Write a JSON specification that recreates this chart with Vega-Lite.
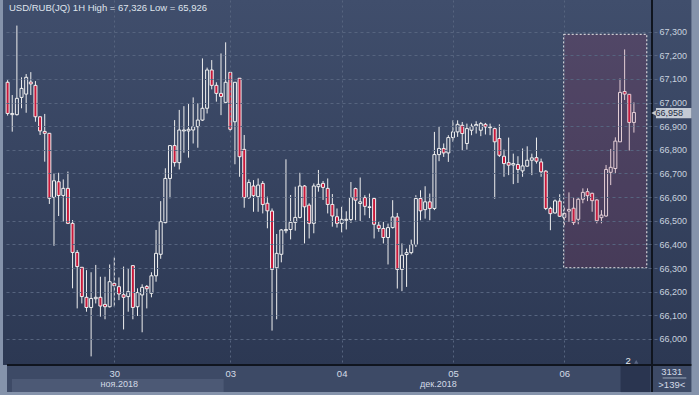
{
"$schema":"https://vega.github.io/schema/vega-lite/v6.json",
"width":654,"height":365,
"autosize":{"type":"none"},
"padding":{"left":3,"top":0,"right":42,"bottom":30},
"background":"#8593ab",
"config":{"font":"Liberation Sans","view":{"stroke":null,"fill":{"gradient":"linear","x1":0,"y1":0,"x2":0,"y2":1,"stops":[{"offset":0,"color":"#404e6c"},{"offset":1,"color":"#2c3853"}]}}},
"resolve":{"axis":{"x":"independent","y":"independent"}},
"datasets":{"candles":[
{"i":1,"o":67.086,"h":67.095,"l":66.945,"c":66.954},
{"i":2,"o":66.949,"h":67.032,"l":66.877,"c":66.954},
{"i":3,"o":66.949,"h":67.326,"l":66.945,"c":67.018},
{"i":4,"o":67.022,"h":67.107,"l":66.976,"c":67.060},
{"i":5,"o":67.036,"h":67.121,"l":66.957,"c":67.107},
{"i":6,"o":67.087,"h":67.129,"l":67.032,"c":67.079},
{"i":7,"o":67.073,"h":67.091,"l":66.919,"c":66.940},
{"i":8,"o":66.940,"h":66.940,"l":66.863,"c":66.880},
{"i":9,"o":66.878,"h":66.952,"l":66.750,"c":66.870},
{"i":10,"o":66.870,"h":66.870,"l":66.571,"c":66.595},
{"i":11,"o":66.599,"h":66.700,"l":66.394,"c":66.669},
{"i":12,"o":66.665,"h":66.703,"l":66.520,"c":66.607},
{"i":13,"o":66.607,"h":66.675,"l":66.496,"c":66.637},
{"i":14,"o":66.637,"h":66.708,"l":66.486,"c":66.489},
{"i":15,"o":66.489,"h":66.503,"l":66.214,"c":66.366},
{"i":16,"o":66.366,"h":66.376,"l":66.129,"c":66.306},
{"i":17,"o":66.303,"h":66.303,"l":66.150,"c":66.179},
{"i":18,"o":66.176,"h":66.291,"l":66.115,"c":66.133},
{"i":19,"o":66.133,"h":66.282,"l":65.926,"c":66.171},
{"i":20,"o":66.170,"h":66.313,"l":66.150,"c":66.176},
{"i":21,"o":66.176,"h":66.263,"l":66.094,"c":66.139},
{"i":22,"o":66.146,"h":66.263,"l":66.083,"c":66.136},
{"i":23,"o":66.136,"h":66.315,"l":66.133,"c":66.242},
{"i":24,"o":66.235,"h":66.345,"l":66.136,"c":66.225},
{"i":25,"o":66.221,"h":66.260,"l":66.164,"c":66.190},
{"i":26,"o":66.187,"h":66.306,"l":66.040,"c":66.176},
{"i":27,"o":66.179,"h":66.298,"l":66.115,"c":66.200},
{"i":28,"o":66.310,"h":66.310,"l":66.083,"c":66.133},
{"i":29,"o":66.136,"h":66.214,"l":66.097,"c":66.196},
{"i":30,"o":66.186,"h":66.231,"l":66.028,"c":66.218},
{"i":31,"o":66.222,"h":66.228,"l":66.129,"c":66.212},
{"i":32,"o":66.193,"h":66.282,"l":66.176,"c":66.267},
{"i":33,"o":66.267,"h":66.461,"l":66.242,"c":66.362},
{"i":34,"o":66.358,"h":66.583,"l":66.339,"c":66.496},
{"i":35,"o":66.492,"h":66.722,"l":66.489,"c":66.679},
{"i":36,"o":66.679,"h":66.818,"l":66.595,"c":66.818},
{"i":37,"o":66.818,"h":66.926,"l":66.729,"c":66.746},
{"i":38,"o":66.746,"h":66.969,"l":66.717,"c":66.884},
{"i":39,"o":66.880,"h":66.985,"l":66.788,"c":66.884},
{"i":40,"o":66.880,"h":66.994,"l":66.767,"c":66.887},
{"i":41,"o":66.884,"h":67.022,"l":66.827,"c":66.898},
{"i":42,"o":66.898,"h":66.997,"l":66.809,"c":66.926},
{"i":43,"o":66.926,"h":67.187,"l":66.922,"c":66.976},
{"i":44,"o":66.976,"h":67.148,"l":66.954,"c":67.138},
{"i":45,"o":67.138,"h":67.180,"l":67.056,"c":67.073},
{"i":46,"o":67.073,"h":67.086,"l":67.004,"c":67.039},
{"i":47,"o":67.039,"h":67.208,"l":66.947,"c":67.026},
{"i":48,"o":67.001,"h":67.255,"l":66.997,"c":67.086},
{"i":49,"o":67.128,"h":67.128,"l":66.877,"c":66.887},
{"i":50,"o":66.919,"h":67.086,"l":66.739,"c":67.086},
{"i":51,"o":67.103,"h":67.103,"l":66.686,"c":66.771},
{"i":52,"o":66.802,"h":66.863,"l":66.555,"c":66.598},
{"i":53,"o":66.598,"h":66.675,"l":66.592,"c":66.662},
{"i":54,"o":66.647,"h":66.672,"l":66.538,"c":66.606},
{"i":55,"o":66.602,"h":66.679,"l":66.538,"c":66.651},
{"i":56,"o":66.658,"h":66.668,"l":66.531,"c":66.569},
{"i":57,"o":66.574,"h":66.602,"l":66.468,"c":66.542},
{"i":58,"o":66.541,"h":66.552,"l":66.035,"c":66.294},
{"i":59,"o":66.301,"h":66.444,"l":66.083,"c":66.362},
{"i":60,"o":66.358,"h":66.465,"l":66.324,"c":66.461},
{"i":61,"o":66.458,"h":66.760,"l":66.447,"c":66.463},
{"i":62,"o":66.463,"h":66.609,"l":66.421,"c":66.493},
{"i":63,"o":66.493,"h":66.644,"l":66.458,"c":66.514},
{"i":64,"o":66.514,"h":66.703,"l":66.510,"c":66.647},
{"i":65,"o":66.647,"h":66.651,"l":66.404,"c":66.559},
{"i":66,"o":66.566,"h":66.574,"l":66.425,"c":66.489},
{"i":67,"o":66.489,"h":66.658,"l":66.447,"c":66.647},
{"i":68,"o":66.644,"h":66.715,"l":66.623,"c":66.654},
{"i":69,"o":66.658,"h":66.668,"l":66.588,"c":66.641},
{"i":70,"o":66.637,"h":66.679,"l":66.531,"c":66.569},
{"i":71,"o":66.569,"h":66.613,"l":66.475,"c":66.520},
{"i":72,"o":66.517,"h":66.552,"l":66.471,"c":66.489},
{"i":73,"o":66.489,"h":66.559,"l":66.451,"c":66.506},
{"i":74,"o":66.502,"h":66.540,"l":66.463,"c":66.506},
{"i":75,"o":66.505,"h":66.664,"l":66.491,"c":66.598},
{"i":76,"o":66.636,"h":66.640,"l":66.502,"c":66.587},
{"i":77,"o":66.573,"h":66.683,"l":66.499,"c":66.580},
{"i":78,"o":66.598,"h":66.608,"l":66.523,"c":66.561},
{"i":79,"o":66.556,"h":66.615,"l":66.511,"c":66.559},
{"i":80,"o":66.594,"h":66.598,"l":66.425,"c":66.485},
{"i":81,"o":66.481,"h":66.495,"l":66.453,"c":66.467},
{"i":82,"o":66.467,"h":66.495,"l":66.404,"c":66.429},
{"i":83,"o":66.429,"h":66.488,"l":66.315,"c":66.471},
{"i":84,"o":66.471,"h":66.587,"l":66.467,"c":66.516},
{"i":85,"o":66.516,"h":66.533,"l":66.213,"c":66.294},
{"i":86,"o":66.294,"h":66.404,"l":66.202,"c":66.354},
{"i":87,"o":66.357,"h":66.382,"l":66.220,"c":66.365},
{"i":88,"o":66.365,"h":66.420,"l":66.358,"c":66.399},
{"i":89,"o":66.399,"h":66.608,"l":66.389,"c":66.594},
{"i":90,"o":66.594,"h":66.629,"l":66.502,"c":66.542},
{"i":91,"o":66.547,"h":66.646,"l":66.509,"c":66.580},
{"i":92,"o":66.580,"h":66.615,"l":66.502,"c":66.552},
{"i":93,"o":66.552,"h":66.876,"l":66.545,"c":66.780},
{"i":94,"o":66.780,"h":66.897,"l":66.752,"c":66.806},
{"i":95,"o":66.806,"h":66.827,"l":66.770,"c":66.787},
{"i":96,"o":66.787,"h":66.862,"l":66.749,"c":66.852},
{"i":97,"o":66.852,"h":66.925,"l":66.834,"c":66.876},
{"i":98,"o":66.876,"h":66.925,"l":66.855,"c":66.908},
{"i":99,"o":66.904,"h":66.918,"l":66.798,"c":66.869},
{"i":100,"o":66.827,"h":66.911,"l":66.801,"c":66.890},
{"i":101,"o":66.883,"h":66.911,"l":66.862,"c":66.900},
{"i":102,"o":66.901,"h":66.921,"l":66.869,"c":66.907},
{"i":103,"o":66.883,"h":66.918,"l":66.858,"c":66.911},
{"i":104,"o":66.908,"h":66.914,"l":66.865,"c":66.897},
{"i":105,"o":66.894,"h":66.911,"l":66.862,"c":66.897},
{"i":106,"o":66.890,"h":66.894,"l":66.593,"c":66.834},
{"i":107,"o":66.848,"h":66.908,"l":66.770,"c":66.777},
{"i":108,"o":66.773,"h":66.801,"l":66.686,"c":66.742},
{"i":109,"o":66.746,"h":66.852,"l":66.693,"c":66.735},
{"i":110,"o":66.736,"h":66.784,"l":66.655,"c":66.742},
{"i":111,"o":66.738,"h":66.773,"l":66.660,"c":66.717},
{"i":112,"o":66.711,"h":66.806,"l":66.686,"c":66.732},
{"i":113,"o":66.731,"h":66.815,"l":66.728,"c":66.756},
{"i":114,"o":66.756,"h":66.784,"l":66.693,"c":66.766},
{"i":115,"o":66.767,"h":66.852,"l":66.742,"c":66.752},
{"i":116,"o":66.749,"h":66.763,"l":66.686,"c":66.707},
{"i":117,"o":66.710,"h":66.714,"l":66.545,"c":66.552},
{"i":118,"o":66.552,"h":66.559,"l":66.460,"c":66.530},
{"i":119,"o":66.533,"h":66.590,"l":66.530,"c":66.584},
{"i":120,"o":66.583,"h":66.612,"l":66.516,"c":66.519},
{"i":121,"o":66.514,"h":66.560,"l":66.480,"c":66.531},
{"i":122,"o":66.541,"h":66.620,"l":66.495,"c":66.548},
{"i":123,"o":66.553,"h":66.598,"l":66.482,"c":66.492},
{"i":124,"o":66.506,"h":66.599,"l":66.485,"c":66.591},
{"i":125,"o":66.591,"h":66.637,"l":66.574,"c":66.620},
{"i":126,"o":66.623,"h":66.637,"l":66.583,"c":66.606},
{"i":127,"o":66.616,"h":66.619,"l":66.538,"c":66.585},
{"i":128,"o":66.588,"h":66.591,"l":66.489,"c":66.500},
{"i":129,"o":66.513,"h":66.545,"l":66.489,"c":66.524},
{"i":130,"o":66.520,"h":66.736,"l":66.517,"c":66.717},
{"i":131,"o":66.705,"h":66.804,"l":66.651,"c":66.726},
{"i":132,"o":66.721,"h":66.853,"l":66.701,"c":66.837},
{"i":133,"o":66.834,"h":67.102,"l":66.834,"c":67.043},
{"i":134,"o":67.047,"h":67.225,"l":67.011,"c":67.036},
{"i":135,"o":67.035,"h":67.035,"l":66.797,"c":66.916},
{"i":136,"o":66.916,"h":67.001,"l":66.873,"c":66.958}
]},
"layer":[
{"data":{"values":[{}]},"mark":{"type":"rect","fill":{"gradient":"linear","x1":0,"y1":0,"x2":0,"y2":1,"stops":[{"offset":0,"color":"#404e6c"},{"offset":1,"color":"#2c3853"}]}},
 "encoding":{"x":{"datum":139.9,"type":"quantitative","scale":{"domain":[1.085,139.9],"nice":false,"zero":false},"axis":null},"x2":{"datum":148.4},
 "y":{"datum":65.8895,"type":"quantitative","scale":{"domain":[65.8895,67.4342],"nice":false,"zero":false},"axis":null},"y2":{"datum":67.4342}}},
{"data":{"values":[{}]},"mark":{"type":"rect","fill":"#3d4a66"},
 "encoding":{"x":{"datum":0.873,"type":"quantitative","scale":{"domain":[1.085,139.9],"nice":false,"zero":false},"axis":null},"x2":{"datum":148.4},
 "y":{"datum":65.775,"type":"quantitative","scale":{"domain":[65.8895,67.4342],"nice":false,"zero":false},"axis":null},"y2":{"datum":65.8895}}},
{"data":{"values":[{}]},"mark":{"type":"rect","fill":"#4c5975"},
 "encoding":{"x":{"datum":1.934,"type":"quantitative","scale":{"domain":[1.085,139.9],"nice":false,"zero":false},"axis":null},"x2":{"datum":47.57},
 "y":{"datum":65.775,"type":"quantitative","scale":{"domain":[65.8895,67.4342],"nice":false,"zero":false},"axis":null},"y2":{"datum":65.830}}},
{"data":{"values":[{}]},"mark":{"type":"rect","fill":"#2a3550"},
 "encoding":{"x":{"datum":133.12,"type":"quantitative","scale":{"domain":[1.085,139.9],"nice":false,"zero":false},"axis":null},"x2":{"datum":139.49},
 "y":{"datum":65.775,"type":"quantitative","scale":{"domain":[65.8895,67.4342],"nice":false,"zero":false},"axis":null},"y2":{"datum":65.885}}},
{"data":{"name":"candles"},"mark":{"type":"rule","color":"#eeeeee","strokeWidth":1,"clip":true},
 "encoding":{"x":{"field":"i","type":"quantitative","scale":{"domain":[1.085,139.9],"nice":false,"zero":false},
   "axis":{"values":[24,49,73,97,121],"labelExpr":"datum.value==24?'30':datum.value==49?'03':datum.value==73?'04':datum.value==97?'05':'06'","grid":true,"gridColor":"#56647f","gridDash":[2,3],"domain":false,"ticks":false,"labelPadding":3,"labelFontSize":9.5,"labelColor":"#d4dbe6","labelFlush":false,"labelOverlap":false,"labelAngle":0,"title":null,"zindex":1,"orient":"bottom"}},
  "y":{"field":"l","type":"quantitative","scale":{"domain":[65.8895,67.4342],"nice":false,"zero":false},
   "axis":{"orient":"right","values":[66,66.1,66.2,66.3,66.4,66.5,66.6,66.7,66.8,66.9,67,67.1,67.2,67.3],"labelExpr":"replace(format(datum.value,'.3f'),'.',',')","grid":true,"gridColor":"#56647f","gridDash":[3,3],"domain":false,"ticks":false,"labelPadding":2,"labelFontSize":9,"labelColor":"#c9d2df","labelFlush":false,"labelOverlap":false,"title":null,"zindex":1}},
  "y2":{"field":"h"}}},
{"data":{"name":"candles"},"mark":{"type":"bar","size":3,"stroke":"#f0f0f0","strokeWidth":1,"clip":true},
 "encoding":{"x":{"field":"i","type":"quantitative","scale":{"domain":[1.085,139.9],"nice":false,"zero":false},"axis":null},
  "y":{"field":"o","type":"quantitative","scale":{"domain":[65.8895,67.4342],"nice":false,"zero":false},"axis":null},
  "y2":{"field":"c"},
  "fill":{"condition":{"test":"datum.c < datum.o","value":"#c8183a"},"field":"c","type":"quantitative","scale":{"domain":[65.8895,67.4342],"range":["#2c3853","#404e6c"]},"legend":null}}},
{"data":{"values":[{}]},"mark":{"type":"rect","fill":"#b0305a","fillOpacity":0.17,"stroke":"#eeeeee","strokeWidth":1,"strokeDash":[2,2]},
 "encoding":{"x":{"datum":120.87,"type":"quantitative","scale":{"domain":[1.085,139.9],"nice":false,"zero":false},"axis":null},"x2":{"datum":138.78},
 "y":{"datum":66.301,"type":"quantitative","scale":{"domain":[65.8895,67.4342],"nice":false,"zero":false},"axis":null},"y2":{"datum":67.289}}},
{"data":{"values":[{}]},"mark":{"type":"rule","color":"#10151f","strokeWidth":2},
 "encoding":{"x":{"datum":139.9,"type":"quantitative","scale":{"domain":[1.085,139.9],"nice":false,"zero":false},"axis":null},
 "y":{"datum":65.775,"type":"quantitative","scale":{"domain":[65.8895,67.4342],"nice":false,"zero":false},"axis":null},"y2":{"datum":67.4342}}},
{"data":{"values":[{}]},"mark":{"type":"rule","color":"#10151f","strokeWidth":2},
 "encoding":{"x":{"datum":0.873,"type":"quantitative","scale":{"domain":[1.085,139.9],"nice":false,"zero":false},"axis":null},"x2":{"datum":148.4},
 "y":{"datum":65.8895,"type":"quantitative","scale":{"domain":[65.8895,67.4342],"nice":false,"zero":false},"axis":null}}},
{"data":{"values":[{}]},"mark":{"type":"rect","fill":"#c4cad4"},
 "encoding":{"x":{"datum":140.76,"type":"quantitative","scale":{"domain":[1.085,139.9],"nice":false,"zero":false},"axis":null},"x2":{"datum":148.4},
 "y":{"datum":66.934,"type":"quantitative","scale":{"domain":[65.8895,67.4342],"nice":false,"zero":false},"axis":null},"y2":{"datum":66.977}}},
{"data":{"values":[{}]},"mark":{"type":"point","shape":"triangle-left","filled":true,"size":70,"color":"#c4cad4","opacity":1},
 "encoding":{"x":{"datum":140.55,"type":"quantitative","scale":{"domain":[1.085,139.9],"nice":false,"zero":false},"axis":null},
 "y":{"datum":66.9555,"type":"quantitative","scale":{"domain":[65.8895,67.4342],"nice":false,"zero":false},"axis":null}}},
{"data":{"values":[{}]},"mark":{"type":"text","text":"66,958","align":"left","baseline":"middle","fontSize":9,"color":"#1f2b42"},
 "encoding":{"x":{"datum":140.65,"type":"quantitative","scale":{"domain":[1.085,139.9],"nice":false,"zero":false},"axis":null},
 "y":{"datum":66.956,"type":"quantitative","scale":{"domain":[65.8895,67.4342],"nice":false,"zero":false},"axis":null}}},
{"data":{"values":[{}]},"mark":{"type":"text","text":"USD/RUB(JQ) 1H High = 67,326 Low = 65,926","align":"left","baseline":"middle","fontSize":9.5,"color":"#dfe4ec"},
 "encoding":{"x":{"datum":1.297,"type":"quantitative","scale":{"domain":[1.085,139.9],"nice":false,"zero":false},"axis":null},
 "y":{"datum":67.399,"type":"quantitative","scale":{"domain":[65.8895,67.4342],"nice":false,"zero":false},"axis":null}}},
{"data":{"values":[{}]},"mark":{"type":"text","text":"ноя.2018","align":"center","baseline":"middle","fontSize":9,"color":"#d4dbe6"},
 "encoding":{"x":{"datum":25.07,"type":"quantitative","scale":{"domain":[1.085,139.9],"nice":false,"zero":false},"axis":null},
 "y":{"datum":65.807,"type":"quantitative","scale":{"domain":[65.8895,67.4342],"nice":false,"zero":false},"axis":null}}},
{"data":{"values":[{}]},"mark":{"type":"text","text":"дек.2018","align":"center","baseline":"middle","fontSize":9,"color":"#d4dbe6"},
 "encoding":{"x":{"datum":93.85,"type":"quantitative","scale":{"domain":[1.085,139.9],"nice":false,"zero":false},"axis":null},
 "y":{"datum":65.807,"type":"quantitative","scale":{"domain":[65.8895,67.4342],"nice":false,"zero":false},"axis":null}}},
{"data":{"values":[{}]},"mark":{"type":"text","text":"2","align":"center","baseline":"middle","fontSize":9.5,"color":"#e6eaf0"},
 "encoding":{"x":{"datum":134.75,"type":"quantitative","scale":{"domain":[1.085,139.9],"nice":false,"zero":false},"axis":null},
 "y":{"datum":65.908,"type":"quantitative","scale":{"domain":[65.8895,67.4342],"nice":false,"zero":false},"axis":null}}},
{"data":{"values":[{}]},"mark":{"type":"point","shape":"triangle-up","filled":true,"size":18,"color":"#5a6684","opacity":1},
 "encoding":{"x":{"datum":136.5,"type":"quantitative","scale":{"domain":[1.085,139.9],"nice":false,"zero":false},"axis":null},
 "y":{"datum":65.903,"type":"quantitative","scale":{"domain":[65.8895,67.4342],"nice":false,"zero":false},"axis":null}}},
{"data":{"values":[{}]},"mark":{"type":"text","text":"3131","align":"center","baseline":"middle","fontSize":9.5,"color":"#d4dbe6"},
 "encoding":{"x":{"datum":144.16,"type":"quantitative","scale":{"domain":[1.085,139.9],"nice":false,"zero":false},"axis":null},
 "y":{"datum":65.861,"type":"quantitative","scale":{"domain":[65.8895,67.4342],"nice":false,"zero":false},"axis":null}}},
{"data":{"values":[{}]},"mark":{"type":"rule","color":"#9aa5b8","strokeWidth":1},
 "encoding":{"x":{"datum":142.2,"type":"quantitative","scale":{"domain":[1.085,139.9],"nice":false,"zero":false},"axis":null},"x2":{"datum":147.3},
 "y":{"datum":65.8345,"type":"quantitative","scale":{"domain":[65.8895,67.4342],"nice":false,"zero":false},"axis":null}}},
{"data":{"values":[{}]},"mark":{"type":"text","text":">139<","align":"center","baseline":"middle","fontSize":9.5,"color":"#d4dbe6"},
 "encoding":{"x":{"datum":144.16,"type":"quantitative","scale":{"domain":[1.085,139.9],"nice":false,"zero":false},"axis":null},
 "y":{"datum":65.805,"type":"quantitative","scale":{"domain":[65.8895,67.4342],"nice":false,"zero":false},"axis":null}}}
]
}
